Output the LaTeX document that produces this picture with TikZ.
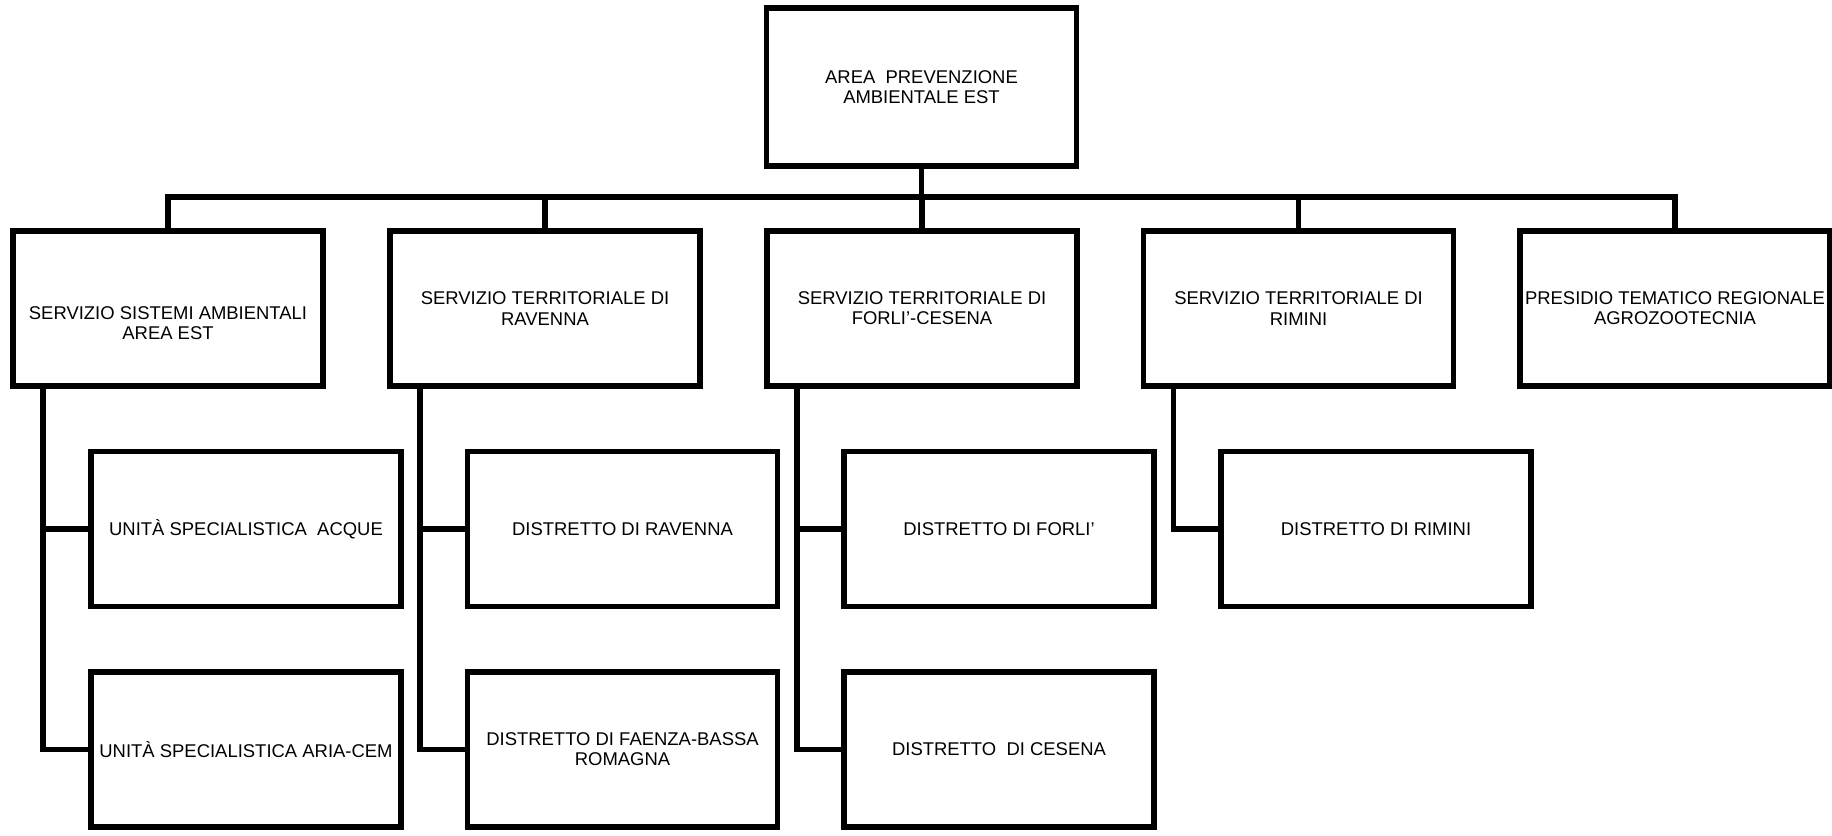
\documentclass[tikz,border=0pt]{standalone}
\usepackage{fontspec}
\setmainfont{Liberation Sans}
\usetikzlibrary{positioning, calc}

\begin{document}
\begin{tikzpicture}[x=0.02cm, y=-0.02cm, line width=3pt,
    box/.style={draw, line width=3pt, minimum width=6.2cm, minimum height=3.1cm,
      inner sep=0pt, align=center, font=\fontsize{10.5}{11.5}\selectfont}]
    \useasboundingbox (0,0) rectangle (1832,835);
    % vertice
    \node[box, minimum height=3.16cm] (top) at (921.5,87) {AREA~ PREVENZIONE\\AMBIENTALE EST};
    % servizi
    \node[box] (s1) at (168,308.5) {\rule{0pt}{0.83cm}SERVIZIO SISTEMI AMBIENTALI\\AREA EST};
    \node[box] (s2) at (545,308.5) {SERVIZIO TERRITORIALE DI\\RAVENNA};
    \node[box] (s3) at (922,308.5) {SERVIZIO TERRITORIALE DI\\FORLI’-CESENA};
    \node[box] (s4) at (1298.5,308.5) {SERVIZIO TERRITORIALE DI\\RIMINI};
    \node[box] (s5) at (1675,308.5) {PRESIDIO TEMATICO REGIONALE\\AGROZOOTECNIA};
    % unita e distretti
    \node[box] (u1) at (246,529) {UNITÀ SPECIALISTICA~ ACQUE};
    \node[box] (u2) at (246,749.5) {UNITÀ SPECIALISTICA ARIA-CEM};
    \node[box] (d1) at (622.5,529) {DISTRETTO DI RAVENNA};
    \node[box] (d2) at (622.5,749.5) {DISTRETTO DI FAENZA-BASSA\\ROMAGNA};
    \node[box] (d3) at (999,529) {DISTRETTO DI FORLI’};
    \node[box] (d4) at (999,749.5) {DISTRETTO~ DI CESENA};
    \node[box] (d5) at (1376,529) {DISTRETTO DI RIMINI};

    % collegamenti
    \coordinate (bus) at (0,197);
    \draw (top.south) -- (top.south |- bus);
    \draw (s1.north) -- (s1.north |- bus) -- (s5.north |- bus) -- (s5.north);
    \foreach \n in {s2,s3,s4}
      \draw (\n.north) -- (\n.north |- bus);
    \foreach \p/\a/\b in {s1/u1/u2, s2/d1/d2, s3/d3/d4} {
      \coordinate (\p-t) at ($(\p.south west)+(32.5,0)$);
      \draw (\p-t) |- (\b.west);
      \draw (\a.west) -- (\a.west -| \p-t);
    }
    \coordinate (s4-t) at ($(s4.south west)+(32.5,0)$);
    \draw (s4-t) |- (d5.west);
  \end{tikzpicture}
\end{document}
